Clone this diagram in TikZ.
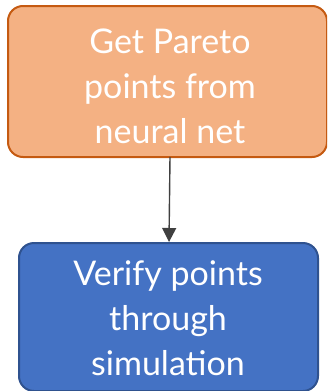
\documentclass[tikz,border=0pt]{standalone}
\usepackage{fontspec}
\setmainfont{Lato}
\usetikzlibrary{arrows.meta}
\definecolor{orfill}{HTML}{F4B183}
\definecolor{ordraw}{HTML}{C55A11}
\definecolor{blfill}{HTML}{4472C4}
\definecolor{bldraw}{HTML}{2F528F}
\definecolor{arr}{HTML}{404040}
\begin{document}
\begin{tikzpicture}[x=1pt,y=-1pt,
  boxstyle/.style={rounded corners=15pt, line width=2pt},
  lbl/.style={text=white, align=center, font=\fontsize{34}{45}\selectfont}]
\useasboundingbox (0,0) rectangle (327,391);
\begin{scope}
\clip (0,0) rectangle (327,391);
\draw[boxstyle, fill=orfill, draw=ordraw] (8,6) rectangle (327,157);
\draw[boxstyle, fill=blfill, draw=bldraw] (19,243) rectangle (318,391);
\end{scope}
\node[lbl] (top) at (170,86) {Get Pareto\\points from\\neural net};
\node[lbl] (bot) at (168,318) {Verify points\\through\\simulation};
\coordinate (a1) at (170,157);
\coordinate (a2) at (169,242);
\draw[arr, line width=1.4pt, -{Triangle[length=14pt,width=14pt]}] (a1) -- (a2);
\end{tikzpicture}
\end{document}
